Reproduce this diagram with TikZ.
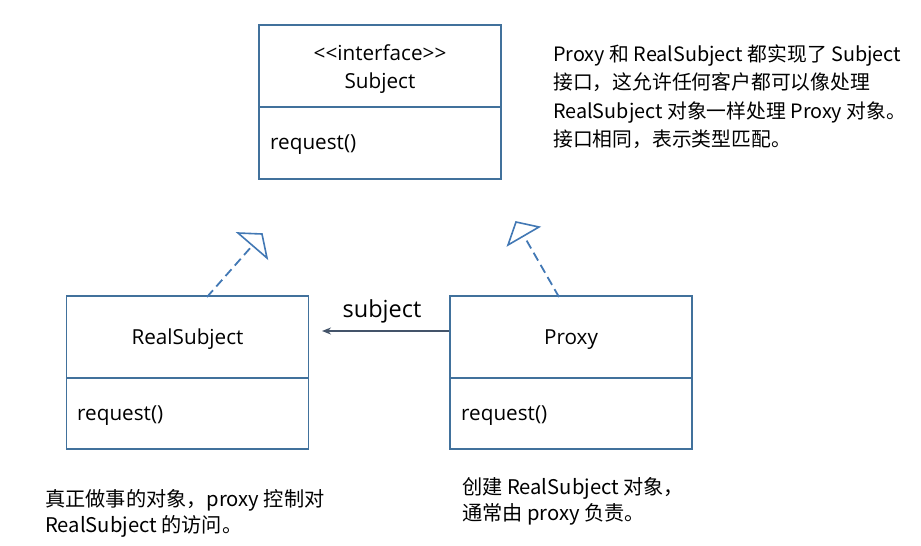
\documentclass[tikz,border=0pt]{standalone}
\usepackage{fontspec}
\setmainfont{Open Sans}
\newfontfamily\cjk{Noto Sans CJK SC}
\usetikzlibrary{arrows.meta}
\definecolor{boxblue}{HTML}{41719C}
\definecolor{dashblue}{HTML}{4278B4}
\definecolor{arrowgray}{HTML}{44546A}
\begin{document}
\begin{tikzpicture}[x=1pt,y=-1pt,
  umlbox/.style={draw=boxblue,line width=1.8pt,minimum width=242pt,minimum height=154pt,inner sep=0pt},
  divider/.style={draw=boxblue,line width=1.8pt},
  boxtext/.style={inner sep=0pt,font=\fontsize{20.7}{24}\selectfont},
  note/.style={inner sep=0pt,align=left,anchor=north west,font=\cjk\fontsize{19.8}{28.5}\selectfont},
  realize/.style={draw=dashblue,line width=1.8pt,dash pattern=on 9pt off 5pt},
  openhead/.style={draw=dashblue,line width=1.6pt,line join=miter,fill=white},
  assoc/.style={draw=arrowgray,line width=1.8pt,-{Stealth[length=9pt,width=7pt]}}]
\useasboundingbox (0,0) rectangle (921,546);
% Subject
\node[umlbox] (subj) at (380,102) {};
\draw[divider] (259,107) -- (501,107);
\node[boxtext] (subjst) at (380,53) {<\kern0pt<interface>\kern0pt>};
\node[boxtext] (subjname) at (380,83.5) {Subject};
\node[boxtext,anchor=west] (subjop) at (270,145) {request()};
% RealSubject
\node[umlbox,minimum height=153pt] (real) at (187.5,372.5) {};
\draw[divider] (66,378) -- (309,378);
\node[boxtext] (realname) at (187.5,339.5) {RealSubject};
\node[boxtext,anchor=west] (realop) at (77,415.5) {request()};
% Proxy
\node[umlbox,minimum height=153pt] (proxy) at (571,372.5) {};
\draw[divider] (450,378) -- (692,378);
\node[boxtext] (proxyname) at (571,339.5) {Proxy};
\node[boxtext,anchor=west] (proxyop) at (461,415.5) {request()};
% association
\coordinate (assocend) at (322,331);
\draw[assoc] (proxy.west |- assocend) -- (assocend);
\node[inner sep=0pt,font=\fontsize{23.5}{27}\selectfont] (assoclbl) at (382,311) {subject};
% realizations
\coordinate (realbase) at (252,246);
\draw[realize] (207,297) -- (realbase);
\draw[openhead] (238,233) -- (262,234) -- (267,258) -- cycle;
\coordinate (proxybase) at (524,236);
\draw[realize] (559,297) -- (proxybase);
\draw[openhead] (516,222) -- (539,227) -- (508,245) -- cycle;
% notes
\node[note] (note1) at (553,44.5) {Proxy 和 RealSubject 都实现了 Subject\\接口，这允许任何客户都可以像处理\\RealSubject 对象一样处理 Proxy 对象。\\接口相同，表示类型匹配。};
\node[note,font=\cjk\fontsize{20.2}{26}\selectfont] (note2) at (45,489.5) {真正做事的对象，proxy 控制对\\RealSubject 的访问。};
\node[note,font=\cjk\fontsize{20.2}{26}\selectfont] (note3) at (462,477.5) {创建 RealSubject 对象，\\通常由 proxy 负责。};
\end{tikzpicture}
\end{document}
